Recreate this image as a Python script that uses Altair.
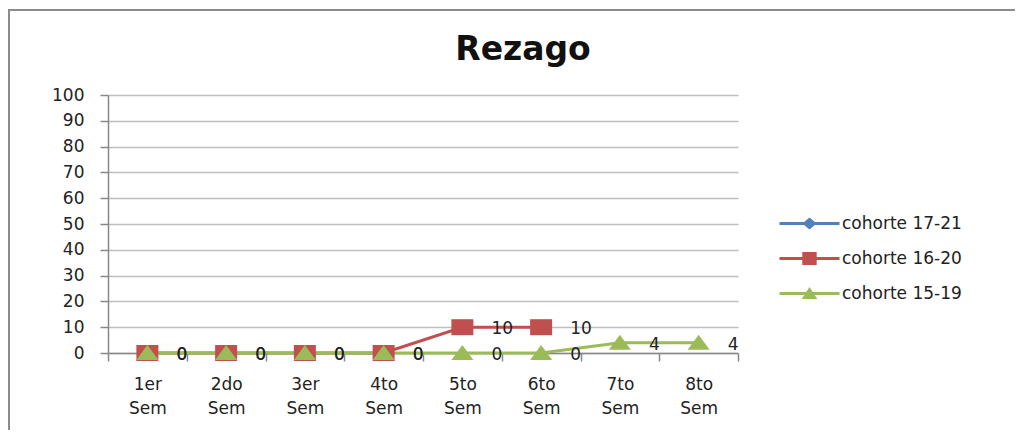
import altair as alt
import pandas as pd

semesters = ["1er Sem", "2do Sem", "3er Sem", "4to Sem", "5to Sem", "6to Sem", "7to Sem", "8to Sem"]
series_names = ["cohorte 17-21", "cohorte 16-20", "cohorte 15-19"]
series_colors = ["#4F81BD", "#C0504D", "#9BBB59"]
cohorte_17_21 = []
cohorte_16_20 = [0, 0, 0, 0, 10, 10]
cohorte_15_19 = [0, 0, 0, 0, 0, 0, 4, 4]
y_ticks = [0, 10, 20, 30, 40, 50, 60, 70, 80, 90, 100]

rows = []
for name, vals in zip(series_names, [cohorte_17_21, cohorte_16_20, cohorte_15_19]):
    for sem, v in zip(semesters, vals):
        rows.append({"sem": sem, "value": v, "series": name})
df = pd.DataFrame(rows)

FONT = "DejaVu Sans"

# marker shapes (plot) and legend symbols (line + marker)
plot_shapes = [
    "M0,-1.7L2.0,0L0,1.7L-2.0,0Z",
    "M-2.2,-1.6L2.2,-1.6L2.2,1.6L-2.2,1.6Z",
    "M0,-1.6L2.2,1.4L-2.2,1.4Z",
]
line_part = "M-5,-0.25L5,-0.25L5,0.25L-5,0.25Z"
legend_shapes = [
    line_part + "M0,-1.0L1.2,0L0,1.0L-1.2,0Z",
    line_part + "M-1.2,-1.1L1.2,-1.1L1.2,1.1L-1.2,1.1Z",
    line_part + "M0,-1.1L1.3,0.9L-1.3,0.9Z",
]

x_enc = alt.X(
    "sem:N",
    sort=semesters,
    scale=alt.Scale(type="band", domain=semesters, paddingInner=0, paddingOuter=0),
    axis=alt.Axis(
        title=None,
        labelExpr="split(datum.label, ' ')",
        labelAngle=0,
        labelFontSize=17,
        labelFont=FONT,
        labelColor="#222222",
        labelLineHeight=24,
        labelPadding=15,
        tickBand="extent",
        tickSize=8,
        tickColor="#888888",
        domainColor="#888888",
        domainWidth=1.5,
        tickWidth=1.5,
        grid=False,
    ),
)
y_enc = alt.Y(
    "value:Q",
    scale=alt.Scale(domain=[0, 100], nice=False),
    axis=alt.Axis(
        title=None,
        values=y_ticks,
        labelFontSize=17,
        labelFont=FONT,
        labelColor="#222222",
        labelPadding=16,
        tickSize=8,
        tickColor="#888888",
        tickWidth=1.5,
        domainColor="#888888",
        domainWidth=1.5,
        grid=True,
        gridColor="#BEBEBE",
        gridWidth=1.5,
    ),
)

color_plain = alt.Color(
    "series:N",
    scale=alt.Scale(domain=series_names, range=series_colors),
    legend=None,
)

base = alt.Chart(df)

border = alt.Chart(alt.Data(values=[{"a": 1}])).mark_rect(
    fill=None, stroke="#8C8C8C", strokeWidth=2
).encode(
    x=alt.value(-99), x2=alt.value(925), y=alt.value(-85), y2=alt.value(353)
)

lines = base.mark_line(strokeWidth=3).encode(x=x_enc, y=y_enc, color=color_plain)

points = base.mark_point(filled=True, size=100, opacity=1).encode(
    x=x_enc,
    y=y_enc,
    color=color_plain,
    shape=alt.Shape("series:N", scale=alt.Scale(domain=series_names, range=plot_shapes), legend=None),
)

labels = base.mark_text(
    align="left", baseline="middle", dx=29, dy=2, fontSize=17, font=FONT, color="#222222"
).encode(x=x_enc, y=y_enc, text=alt.Text("value:Q"))

legend_layer = base.transform_filter("false").mark_point(filled=True, opacity=1).encode(
    color=alt.Color(
        "series:N",
        scale=alt.Scale(domain=series_names, range=series_colors),
        legend=alt.Legend(title=None),
    ),
    shape=alt.Shape(
        "series:N",
        scale=alt.Scale(domain=series_names, range=legend_shapes),
        legend=alt.Legend(title=None),
    ),
)

chart = (
    alt.layer(border, lines, points, labels, legend_layer)
    .resolve_scale(color="independent", shape="independent")
    .properties(
        width=630,
        height=258,
        autosize=alt.AutoSizeParams(type="none"),
        padding={"left": 100, "top": 87, "right": 277, "bottom": 77},
        title=alt.TitleParams(
            "Rezago",
            fontSize=33,
            fontWeight="bold",
            font=FONT,
            color="#111111",
            anchor="middle",
            dx=100,
            dy=76,
            offset=18,
        ),
    )
    .configure_view(stroke=None)
    .configure_legend(
        orient="none",
        legendX=693,
        legendY=120,
        symbolSize=144,
        symbolStrokeWidth=0,
        labelOffset=24,
        labelFontSize=17,
        labelFont=FONT,
        labelColor="#222222",
        rowPadding=17,
        padding=0,
    )
)

chart.save("out.html", embed_options={"renderer": "svg", "actions": False})
